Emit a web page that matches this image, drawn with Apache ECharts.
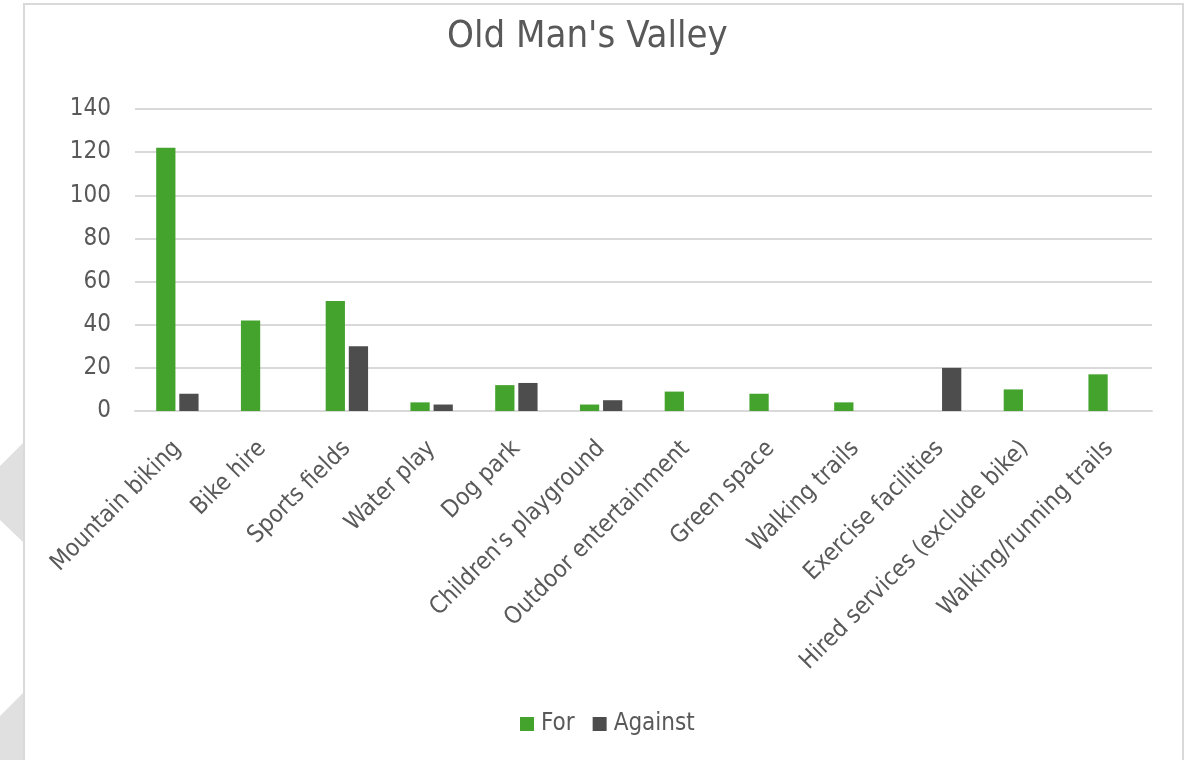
<!DOCTYPE html>
<html>
<head>
<meta charset="utf-8">
<script src="https://cdn.jsdelivr.net/npm/echarts@6/dist/echarts.min.js"></script>
<style>
html,body{margin:0;padding:0;background:#fff;}
#chart{width:1186px;height:760px;}
</style>
</head>
<body>
<div id="chart"></div>
<script>
var categories = ["Mountain biking", "Bike hire", "Sports fields", "Water play", "Dog park", "Children's playground", "Outdoor entertainment", "Green space", "Walking trails", "Exercise facilities", "Hired services (exclude bike)", "Walking/running trails"];
var forValues = [122, 42, 51, 4, 12, 3, 9, 8, 4, 0, 10, 17];
var againstValues = [8, 0, 30, 3, 13, 5, 0, 0, 0, 20, 0, 0];
var yTicks = {min: 0, max: 140, interval: 20};

var FONT = "'DejaVu Sans Condensed', 'DejaVu Sans', sans-serif";
var TXT = '#595959';

var chart = echarts.init(document.getElementById('chart'), null, {renderer: 'canvas'});
chart.setOption({
  backgroundColor: '#ffffff',
  animation: false,
  title: {
    text: "Old Man's Valley",
    left: 447, top: 18, padding: 0,
    textStyle: {fontFamily: FONT, fontSize: 38, fontWeight: 'normal', color: TXT}
  },
  legend: {
    data: ['For', 'Against'],
    left: 520, top: 712, padding: 0,
    itemWidth: 14, itemHeight: 14, itemGap: 18,
    icon: 'rect',
    textStyle: {fontFamily: FONT, fontSize: 24, color: TXT, padding: [0, 0, 0, 2]}
  },
  grid: {left: 135, right: 34, top: 109, bottom: 349, containLabel: false},
  xAxis: {
    type: 'category',
    data: categories,
    axisLine: {lineStyle: {color: '#d9d9d9', width: 2}},
    axisTick: {show: false},
    axisLabel: {interval: 0, rotate: 45, margin: 34, fontFamily: FONT, fontSize: 24, color: TXT}
  },
  yAxis: {
    type: 'value',
    min: yTicks.min, max: yTicks.max, interval: yTicks.interval,
    axisLine: {show: false},
    axisTick: {show: false},
    axisLabel: {margin: 24, fontFamily: FONT, fontSize: 24, color: TXT},
    splitLine: {lineStyle: {color: '#d9d9d9', width: 2}}
  },
  series: [
    {name: 'For', type: 'bar', data: forValues, barCategoryGap: '50%', barGap: '20%',
     itemStyle: {color: '#43a32c'}},
    {name: 'Against', type: 'bar', data: againstValues,
     itemStyle: {color: '#4d4d4d'}}
  ],
  graphic: [
    {type: 'rect', shape: {x: 24, y: 4, width: 1159, height: 770}, z: -10,
     style: {fill: '#ffffff', stroke: '#d9d9d9', lineWidth: 2}},
    {type: 'polygon', shape: {points: [[23, 443], [0, 466], [0, 520], [23, 542]]}, z: -10,
     style: {fill: '#e0e0e0'}},
    {type: 'polygon', shape: {points: [[23, 693], [0, 716], [0, 760], [23, 760]]}, z: -10,
     style: {fill: '#e0e0e0'}}
  ]
});
</script>
</body>
</html>
